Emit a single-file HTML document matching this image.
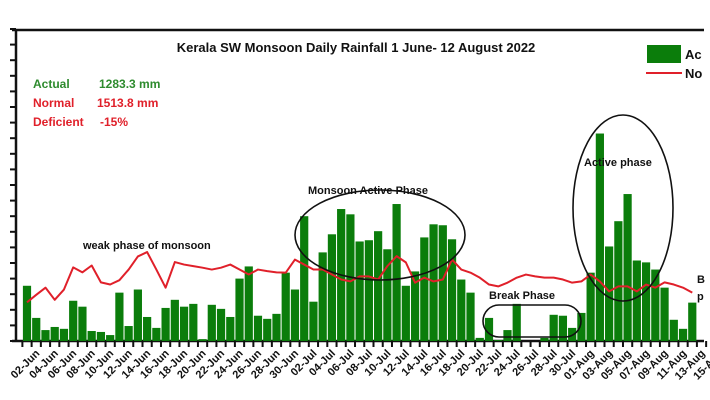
<!DOCTYPE html>
<html><head><meta charset="utf-8"><style>
html,body{margin:0;padding:0;background:#fff;}
svg{display:block;font-family:"Liberation Sans",sans-serif;}
</style></head><body>
<svg id="chart" width="710" height="400" viewBox="0 0 710 400" xmlns="http://www.w3.org/2000/svg">
<g id="axes"></g>
<g id="bars"></g>
<g id="line"></g>
<g id="labels"></g>
<text x="356" y="52" text-anchor="middle" font-size="13" font-weight="bold" fill="#111">Kerala SW Monsoon Daily Rainfall 1 June- 12 August 2022</text>
<g font-size="12" font-weight="bold">
<text x="33" y="88" fill="#2e8b2e">Actual</text>
<text x="99" y="88" fill="#2e8b2e">1283.3 mm</text>
<text x="33" y="107" fill="#e0202a">Normal</text>
<text x="97" y="107" fill="#e0202a">1513.8 mm</text>
<text x="33" y="126" fill="#e0202a">Deficient</text>
<text x="100" y="126" fill="#e0202a">-15%</text>
</g>
<g>
<rect x="647" y="45" width="34" height="18" fill="#0b7d0b"/>
<text x="685" y="59" font-size="13" font-weight="bold" fill="#111">Ac</text>
<line x1="646" y1="73" x2="682" y2="73" stroke="#e0202a" stroke-width="2"/>
<text x="685" y="78" font-size="13" font-weight="bold" fill="#111">No</text>
</g>
<g font-size="11" font-weight="bold" fill="#111">
<text x="83" y="249">weak phase of monsoon</text>
<text x="308" y="194">Monsoon Active Phase</text>
<text x="489" y="299">Break Phase</text>
<text x="584" y="166">Active phase</text>
<text x="697" y="283">B</text>
<text x="697" y="300">p</text>
<ellipse cx="380" cy="235" rx="85" ry="45" fill="none" stroke="#111" stroke-width="1.6"/>
<ellipse cx="623" cy="208" rx="50" ry="93" fill="none" stroke="#111" stroke-width="1.6"/>
<rect x="483" y="305" width="98" height="32" rx="16" fill="none" stroke="#111" stroke-width="1.6"/>
</g>
</svg>
<script>
const days = ["01-Jun","02-Jun","03-Jun","04-Jun","05-Jun","06-Jun","07-Jun","08-Jun","09-Jun","10-Jun","11-Jun","12-Jun","13-Jun","14-Jun","15-Jun","16-Jun","17-Jun","18-Jun","19-Jun","20-Jun","21-Jun","22-Jun","23-Jun","24-Jun","25-Jun","26-Jun","27-Jun","28-Jun","29-Jun","30-Jun","01-Jul","02-Jul","03-Jul","04-Jul","05-Jul","06-Jul","07-Jul","08-Jul","09-Jul","10-Jul","11-Jul","12-Jul","13-Jul","14-Jul","15-Jul","16-Jul","17-Jul","18-Jul","19-Jul","20-Jul","21-Jul","22-Jul","23-Jul","24-Jul","25-Jul","26-Jul","27-Jul","28-Jul","29-Jul","30-Jul","31-Jul","01-Aug","02-Aug","03-Aug","04-Aug","05-Aug","06-Aug","07-Aug","08-Aug","09-Aug","10-Aug","11-Aug","12-Aug"];
const actual = [17.7,7.4,3.5,4.5,3.9,12.9,11,3.2,2.9,1.9,15.5,4.8,16.5,7.7,4.2,10.6,13.2,11,11.9,0.6,11.6,10.3,7.7,20,23.9,8.1,7.1,8.7,21.9,16.5,40,12.6,28.4,34.2,42.3,40.6,31.9,32.3,35.2,29.4,43.9,17.7,22.3,33.2,37.4,37.1,32.6,19.7,15.5,1,7.4,0.3,3.5,11.9,0,0,1,8.4,8.1,4.2,9,21.9,66.5,30.3,38.4,47.1,25.8,25.2,22.9,17.1,6.8,3.9,12.3];
const normal = [12.4,14.8,17.1,13.2,16.5,23.6,22,24.2,18.8,18.1,19.5,22.9,27.1,28.5,22.9,17.1,25.3,24.5,24,23.5,22.9,23.5,24.5,22.9,21.3,22.9,22.4,22,21.9,26.1,24.5,22.9,22.9,21.3,19.7,19.1,20.7,20.7,19.7,24,27.2,25.2,18.7,20.3,19.1,19.7,26.1,22.9,21.9,20.3,18.1,17.5,18.7,20.3,21.3,20.7,20.3,20.3,19.7,18.7,19.1,21.3,19.1,15.9,17.5,17.5,15.9,18.1,17.1,18.8,18.1,17.1,15.5];
const tickLabels = ["02-Jun","04-Jun","06-Jun","08-Jun","10-Jun","12-Jun","14-Jun","16-Jun","18-Jun","20-Jun","22-Jun","24-Jun","26-Jun","28-Jun","30-Jun","02-Jul","04-Jul","06-Jul","08-Jul","10-Jul","12-Jul","14-Jul","16-Jul","18-Jul","20-Jul","22-Jul","24-Jul","26-Jul","28-Jul","30-Jul","01-Aug","03-Aug","05-Aug","07-Aug","09-Aug","11-Aug","13-Aug","15-Aug"];
const NS="http://www.w3.org/2000/svg";
const base=341, top0=30, pitch=9.24, x0=27, k=3.12;
function x(i){return x0+i*pitch;}
function y(v){return base-v*k;}
function mk(tag,attrs,parent){const e=document.createElementNS(NS,tag);for(const a in attrs)e.setAttribute(a,attrs[a]);parent.appendChild(e);return e;}
const axes=document.getElementById('axes');
let e=mk('line',{x1:16,y1:top0,x2:16,y2:base,stroke:'#111','stroke-width':2.5},axes);


e=mk('line',{x1:12,y1:top0,x2:704,y2:top0,stroke:'#111','stroke-width':2.5},axes);


e=mk('line',{x1:12,y1:base,x2:704,y2:base,stroke:'#111','stroke-width':2.5},axes);


for(let t=0;t<=20;t++){const yy=base-t*15.6; if(yy<top0-1)break;
 e=mk('line',{x1:10,y1:yy,x2:16,y2:yy,stroke:'#111','stroke-width':2},axes);
 
 }
for(let i=0;i<=days.length+1;i++){
 e=mk('line',{x1:x(i)-pitch/2,y1:base,x2:x(i)-pitch/2,y2:base+6,stroke:'#111','stroke-width':2},axes);
 
 }
const bars=document.getElementById('bars');
actual.forEach((v,i)=>{
 const b=mk('rect',{x:x(i)-4.1,y:y(v),width:8.2,height:base-y(v),fill:'#0b7d0b'},bars);
 
 
});
const pts=normal.map((v,i)=>x(i)+','+y(v)).join(' ');
const pl=mk('polyline',{points:pts,fill:'none',stroke:'#e0202a','stroke-width':2,'stroke-linejoin':'round'},document.getElementById('line'));


const lab=document.getElementById('labels');
tickLabels.forEach((t,j)=>{
 const i=1+2*j; const lx=x(i)+4, ly=base+13;
 const tx=mk('text',{x:lx,y:ly,'text-anchor':'end','font-size':'11','font-weight':'bold',fill:'#111',transform:'rotate(-45 '+lx+' '+ly+')'},lab);
 tx.textContent=t;
 
 
});
</script>
</body></html>
